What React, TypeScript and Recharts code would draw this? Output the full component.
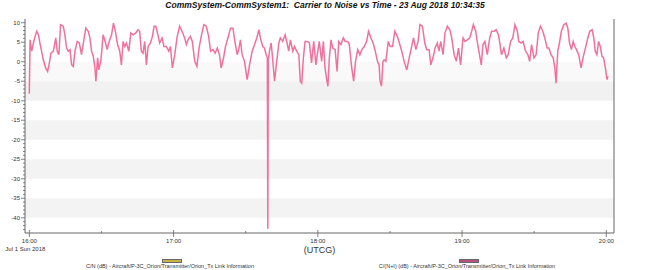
import { Legend, Line, LineChart, ReferenceArea, XAxis, YAxis } from 'recharts';

// minutes after 16:00 UTCG, 1 Jul 2018
const times = [
  0, 0.3, 1.0, 1.7, 2.4, 3.1, 3.8, 4.4, 5.1, 5.8, 6.8, 7.6, 8.2, 9.0, 10.0, 11.0, 11.6, 12.3, 13.0,
  14.1, 14.8, 15.5, 16.2, 16.9, 17.6, 18.3, 19.0, 19.9, 20.8, 21.7, 22.7, 23.5, 24.5, 25.2, 25.9,
  26.6, 27.3, 27.7, 28.4, 28.9, 29.8, 30.7, 31.7, 32.4, 33.2, 34.2, 35.0, 35.8, 36.7, 37.6, 38.3,
  39.0, 39.7, 40.4, 41.4, 42.2, 43.2, 44.3, 45.2, 45.9, 46.6, 47.3, 48.0, 48.7, 49.4, 50.4, 51.2,
  51.9, 52.6, 53.3, 54.2, 55.2, 56.0, 57.0, 58.0, 58.7, 59.5, 60.5, 61.4, 62.5, 63.5, 64.6, 65.3,
  66.0, 67.0, 67.8, 68.8, 69.7, 70.6, 71.5, 72.6, 73.6, 74.6, 75.4, 76.4, 77.3, 78.2, 79.1, 79.8,
  80.8, 81.6, 82.6, 83.7, 84.7, 85.6, 86.5, 87.2, 87.8, 88.5, 89.5, 90.6, 91.6, 92.7, 93.7, 94.6,
  95.5, 96.1, 97.1, 97.8, 98.5, 99.0, 99.2, 99.4, 99.9, 100.6, 101.3, 102.0, 102.6, 103.8, 104.4,
  105.4, 106.4, 107.2, 107.9, 108.6, 109.6, 110.3, 111.2, 112.1, 112.7, 113.3, 114.0, 114.7, 115.5,
  116.5, 117.4, 118.3, 119.2, 120.0, 120.6, 121.6, 122.3, 123.0, 123.7, 124.2, 124.8, 125.5, 126.2,
  127.2, 128.0, 128.7, 129.6, 130.6, 131.4, 132.4, 133.1, 134.1, 134.9, 135.7, 136.6, 137.5, 138.3,
  139.3, 140.3, 141.1, 142.1, 143.0, 143.9, 144.8, 145.5, 145.9, 146.5, 147.1, 147.6, 148.3, 149.3,
  150.1, 151.1, 152.0, 153.1, 154.1, 154.9, 155.9, 157.0, 158.0, 158.9, 159.8, 160.8, 161.7, 162.5,
  163.5, 164.5, 165.3, 166.3, 167.0, 167.9, 168.8, 169.7, 170.4, 171.1, 172.1, 172.9, 173.9, 174.9,
  175.7, 176.7, 177.6, 178.5, 179.4, 180.4, 181.2, 182.2, 183.2, 184.0, 184.7, 185.7, 186.3, 187.0,
  188.0, 188.7, 189.5, 190.5, 191.5, 192.3, 193.3, 194.2, 195.1, 195.6, 196.4, 197.4, 198.4, 199.2,
  200.2, 201.1, 202.0, 203.0, 203.6, 204.6, 205.4, 206.4, 207.4, 208.1, 208.9, 209.9, 210.8, 211.7,
  212.6, 213.6, 214.4, 215.4, 216.1, 217.0, 217.9, 218.6, 219.1, 219.8, 220.5, 221.3, 222.3, 223.3,
  224.0, 224.7, 225.5, 226.2, 226.9, 227.6, 228.5, 229.5, 230.3, 231.3, 232.3, 233.1, 234.1, 234.8,
  235.4, 236.1, 236.8, 237.5, 238.2, 238.9, 239.6, 240.3, 240.7,
];

// C/(N+I) in dB
const cni = [
  -8.2, 5.6, 2.7, 4.8, 6.5, 7.8, 6.9, 4.8, 2.7, 0.5, -1.6, -2.5, -0.8, 2.2, 2.7, 6.1, 2.7, 1.8, 9.5,
  9.1, 6.9, 3.5, 2.7, 3.1, -0.8, -1.2, 2.7, 5.2, 4.8, 1.8, 5.6, 8.6, 7.8, 6.1, 2.7,
  1.4, -1.6, -5.0, 1.0, -2.1, 0.5, 6.9, 4.8, 3.1, 5.2, 6.9, 9.9, 7.8, 4.4, 2.7, -0.8,
  5.2, 3.9, 4.8, 2.7, 7.4, 6.9, 7.4, 8.2, 7.8, 2.7, 2.2, 5.2, -0.8, 3.9, 4.8, 6.5,
  9.1, 9.1, 7.4, 4.8, 6.1, 3.9, 3.9, 2.7, 3.9, -1.6, 1.8, 6.1, 9.1, 7.8, 6.1, 4.4,
  5.6, 6.5, 5.2, 0.1, -1.2, 3.5, 6.5, 9.5, 9.1, 6.5, 2.7, 3.1, 2.2, 3.5, 1.8, -1.6,
  1.0, 3.9, 6.1, 8.6, 8.6, 4.8, 1.8, 3.5, 5.6, 1.8, 0.1, -4.6, -0.8, 2.7, 4.4, 6.1,
  8.2, 6.1, 3.9, 3.5, 1.8, 1.0, -42.8, 0.5, 2.7, 4.8, 0.1, -5.0, -1.6, 4.8, 6.1,
  5.2, 6.9, 4.8, 2.7, 5.6, 2.7, 3.9, 2.7, 1.8, -5.0, -5.5, 1.0, 5.2, 5.2,
  4.8, -0.3, 5.2, -0.8, 2.7, 5.2, 0.1, 5.2, -1.6, -4.6, -6.3, 1.0, 5.6, 3.5,
  3.1, -2.5, 5.2, 4.4, 6.1, 5.2, 5.2, 4.4, -1.6, -5.0, 0.1, 3.1, 1.8, 3.1,
  3.9, 5.2, 7.8, 6.1, 4.8, 2.7, 0.1, -0.8, -5.0, -6.3, 0.1, 0.5, 0.1, 5.2,
  3.9, 3.9, 7.8, 6.5, 4.4, 2.7, 0.1, -2.1, 1.0, 3.5, 6.1, 3.1, 5.2, 9.5,
  9.1, 4.8, 3.1, 3.1, -0.8, 1.0, 3.5, 4.8, 2.7, 5.2, 1.8, 7.4, 9.1, 8.2,
  6.1, 1.8, 0.1, 3.5, -0.8, 6.1, 5.2, 5.6, 6.1, 7.8, 9.5, 7.8, 5.2, 2.7,
  -0.8, 4.4, 5.2, 1.8, 6.1, 7.8, 7.8, 8.2, 6.9, 5.2, 1.8, 3.5, 1.0, 1.8,
  5.2, 6.1, 9.5, 7.8, 5.2, 4.8, 5.2, 2.7, 1.8, 0.1, 4.4, 1.0, 1.8, 7.4,
  9.1, 7.8, 6.1, 3.5, 3.5, 1.8, 1.0, -1.6, -5.5, 2.7, 4.8, 7.8, 9.5, 9.9,
  8.6, 4.8, 3.1, 5.2, 3.9, 3.1, 1.8, -1.6, 1.0, 3.5, 6.1, 7.8, 8.2, 6.1,
  2.7, 1.8, 5.2, 3.9, 1.4, 1.0, -1.6, -4.6, -3.7,
];

const xTicks = [0, 30, 60, 90, 120, 150, 180, 210, 240];
const hourLabels = ['16:00', '', '17:00', '', '18:00', '', '19:00', '', '20:00'];
const dateLabel = 'Jul 1 Sun 2018';

const yMajorTicks = [10, 5, 0, -5, -10, -15, -20, -25, -30, -35, -40];
const yAllTicks = Array.from({ length: 54 }, (_, i) => 10 - i);

const bands = [
  [-5, 0, '#f9f9f9'],
  [-10, -5, '#f1f1f1'],
  [-20, -15, '#f3f3f3'],
  [-30, -25, '#f3f3f3'],
  [-40, -35, '#f3f3f3'],
] as const;

const legendNames = [
  'C/N (dB) - Aircraft/P-3C_Orion/Transmitter/Orion_Tx Link Information',
  'C/(N+I) (dB) - Aircraft/P-3C_Orion/Transmitter/Orion_Tx Link Information',
];
const legendColors = ['#c9b24a', '#b6527f'];

const data = times.map((t, i) => ({ t, cni: cni[i] }));

const FONT = '"Liberation Sans", Arial, sans-serif';
const TEXT = '#333';
const AXIS = '#666';

function LeftTick({ x, y, payload }: any) {
  const major = yMajorTicks.includes(payload.value);
  return (
    <g>
      <line x1={x - (major ? 4 : 2)} x2={x} y1={y} y2={y} stroke={AXIS} strokeWidth={0.8} />
      {major && (
        <text x={x - 5} y={y + 2} textAnchor="end" fontSize={6} fill={TEXT} fontFamily={FONT}>
          {payload.value}
        </text>
      )}
    </g>
  );
}

function RightTick({ x, y, payload }: any) {
  const major = yMajorTicks.includes(payload.value);
  return (
    <g>
      <line x1={x} x2={x + (major ? 4 : 2)} y1={y} y2={y} stroke={AXIS} strokeWidth={0.8} />
      {major && (
        <text x={x + 5} y={y + 2} textAnchor="start" fontSize={6} fill={TEXT} fontFamily={FONT}>
          {payload.value}
        </text>
      )}
    </g>
  );
}

function TimeTick({ x, y, payload, index }: any) {
  const label = hourLabels[index];
  return (
    <g>
      {label ? (
        <line x1={x} x2={x} y1={y - 3} y2={y + 4} stroke={AXIS} strokeWidth={0.8} />
      ) : (
        <line x1={x} x2={x} y1={y - 2} y2={y} stroke={AXIS} strokeWidth={0.8} />
      )}
      {label && (
        <text x={x} y={y + 10} textAnchor="middle" fontSize={6} fill={TEXT} fontFamily={FONT}>
          {label}
        </text>
      )}
      {index === 0 && (
        <text x={x - 4} y={y + 18} textAnchor="middle" fontSize={6} fill={TEXT} fontFamily={FONT}>
          {dateLabel}
        </text>
      )}
    </g>
  );
}

function UnitLabel({ viewBox }: any) {
  return (
    <text
      x={viewBox.x + viewBox.width / 2}
      y={viewBox.y + 20}
      textAnchor="middle"
      fontSize={9}
      fill={TEXT}
      fontFamily={FONT}
    >
      (UTCG)
    </text>
  );
}

function renderLegend() {
  const centers = [170, 467];
  return (
    <div style={{ position: 'relative', width: 650, height: 16, fontFamily: FONT }}>
      {legendNames.map((name, i) => (
        <div key={name}>
          <div
            style={{
              position: 'absolute',
              left: centers[i] - 8,
              top: 5,
              width: 18,
              height: 2,
              background: legendColors[i],
              border: '0.5px solid #666',
            }}
          />
          <div
            style={{
              position: 'absolute',
              left: centers[i] - 150,
              width: 300,
              top: 9,
              textAlign: 'center',
              fontSize: 5.5,
              lineHeight: '6px',
              color: TEXT,
              whiteSpace: 'nowrap',
            }}
          >
            {name}
          </div>
        </div>
      ))}
    </div>
  );
}

export default function App() {
  return (
    <div style={{ position: 'absolute', left: 0, top: 0, width: 650, height: 270, background: '#fff' }}>
      <div
        style={{
          position: 'absolute',
          top: 0,
          left: 0,
          width: 650,
          textAlign: 'center',
          fontFamily: FONT,
          fontSize: 8.5,
          fontWeight: 'bold',
          fontStyle: 'italic',
          color: '#111',
          lineHeight: '11px',
          whiteSpace: 'pre',
        }}
      >
        {'CommSystem-CommSystem1:  Carrier to Noise vs Time - 23 Aug 2018 10:34:35'}
      </div>
      <LineChart width={650} height={270} data={data} margin={{ top: 19, right: 0, bottom: 0, left: 0 }}>
        {bands.map(([y1, y2, fill]) => (
          <ReferenceArea
            key={y1}
            yAxisId="left"
            y1={y1}
            y2={y2}
            fill={fill}
            fillOpacity={1}
            stroke="none"
            ifOverflow="hidden"
          />
        ))}
        <XAxis
          dataKey="t"
          type="number"
          domain={[-1.8, 243.2]}
          ticks={xTicks}
          interval={0}
          height={21}
          tickSize={0}
          tickMargin={0}
          tickLine={false}
          axisLine={{ stroke: AXIS, strokeWidth: 1 }}
          tick={<TimeTick />}
          label={<UnitLabel />}
        />
        <XAxis
          xAxisId="top"
          dataKey="t"
          type="number"
          orientation="top"
          domain={[-1.8, 243.2]}
          height={0}
          tick={false}
          tickLine={false}
          axisLine={{ stroke: '#9a9a9a', strokeWidth: 1 }}
        />
        <YAxis
          yAxisId="left"
          type="number"
          domain={[-43.9, 10.95]}
          ticks={yAllTicks}
          interval={0}
          width={25}
          tickSize={0}
          tickMargin={0}
          tickLine={false}
          axisLine={{ stroke: AXIS, strokeWidth: 1 }}
          tick={<LeftTick />}
        />
        <YAxis
          yAxisId="right"
          orientation="right"
          type="number"
          domain={[-43.9, 10.95]}
          ticks={yAllTicks}
          interval={0}
          width={36}
          tickSize={0}
          tickMargin={0}
          tickLine={false}
          axisLine={{ stroke: AXIS, strokeWidth: 1 }}
          tick={<RightTick />}
        />
        <Legend verticalAlign="bottom" height={16} content={renderLegend} />
        <Line
          yAxisId="left"
          type="linear"
          dataKey="cni"
          name={legendNames[1]}
          stroke="#f0719b"
          strokeWidth={1.5}
          dot={false}
          isAnimationActive={false}
        />
      </LineChart>
    </div>
  );
}
